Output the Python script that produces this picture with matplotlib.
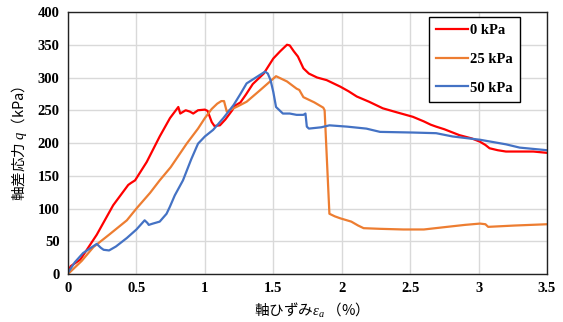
import matplotlib
matplotlib.use("Agg")
import matplotlib.pyplot as plt

# 0 kPa
x_0 = [0, 0.02, 0.09, 0.21, 0.33, 0.44, 0.46, 0.49, 0.575, 0.67, 0.745, 0.806, 0.82, 0.86, 0.89,
       0.915, 0.95, 1.0, 1.02, 1.05, 1.07, 1.11, 1.15, 1.2, 1.22, 1.26, 1.3, 1.35, 1.43, 1.5, 1.55,
       1.6, 1.62, 1.65, 1.68, 1.72, 1.76, 1.82, 1.89, 1.93, 1.99, 2.05, 2.11, 2.2, 2.3, 2.4, 2.52,
       2.6, 2.65, 2.69, 2.75, 2.86, 2.95, 3.01, 3.05, 3.08, 3.14, 3.2, 3.3, 3.4, 3.5]
q_0 = [4, 12, 22, 60, 105, 136, 139, 143, 171, 210, 238, 255, 245, 250, 248,
       245, 250, 251, 249, 232, 226, 227, 236, 250, 257, 262, 274, 290, 306, 329, 340,
       350, 349, 340, 332, 314, 306, 300, 296, 292, 286, 279, 271, 263, 253, 247, 240,
       233, 228, 225, 221, 212, 207, 202, 197, 192, 189, 187, 187, 187, 185]

# 25 kPa
x_25 = [0, 0.1, 0.185, 0.3, 0.43, 0.5, 0.6, 0.67, 0.75, 0.867, 0.95, 1.0, 1.05, 1.09, 1.12, 1.14,
        1.16, 1.18, 1.24, 1.305, 1.4, 1.52, 1.56, 1.6, 1.67, 1.69, 1.72, 1.8, 1.865, 1.875, 1.91,
        1.95, 1.99, 2.07, 2.12, 2.16, 2.28, 2.45, 2.6, 2.77, 2.9, 3.01, 3.05, 3.07, 3.26, 3.5]
q_25 = [0, 20, 41, 60, 82, 100, 124, 143, 163, 199, 222, 238, 252, 260, 264, 264,
        248, 250, 256, 263, 280, 302, 298, 294, 283, 281, 270, 262, 254, 250, 92,
        88, 85, 80, 74, 70, 69, 68, 68, 72, 75, 77, 76, 72, 74, 76]

# 50 kPa
x_50 = [0, 0.05, 0.11, 0.21, 0.24, 0.26, 0.3, 0.35, 0.43, 0.5, 0.56, 0.58, 0.59, 0.62, 0.67, 0.72,
        0.745, 0.78, 0.84, 0.9, 0.95, 1.0, 1.06, 1.135, 1.21, 1.26, 1.305, 1.38, 1.44, 1.46, 1.48,
        1.5, 1.52, 1.57, 1.62, 1.67, 1.72, 1.735, 1.745, 1.76, 1.85, 1.91, 2.04, 2.18, 2.28, 2.52,
        2.69, 2.81, 3.01, 3.2, 3.3, 3.5]
q_50 = [2, 18, 32, 46, 40, 37, 36, 42, 55, 68, 82, 78, 75, 77, 80, 92,
        103, 120, 143, 175, 199, 210, 220, 238, 258, 275, 291, 301, 309, 306, 296,
        278, 255, 245, 245, 243, 243, 245, 225, 222, 224, 227, 225, 222, 217, 216,
        215, 210, 205, 198, 193, 189]

labels = ["0 kPa", "25 kPa", "50 kPa"]
colors = ["#FF0000", "#ED7D31", "#4472C4"]

plt.rcParams['mathtext.fontset'] = 'custom'
plt.rcParams['mathtext.it'] = 'Liberation Serif:italic'
plt.rcParams['mathtext.rm'] = 'Liberation Serif'

fig = plt.figure(figsize=(5.63, 3.22), dpi=100)
ax = fig.add_axes([0.1208, 0.149, 0.8508, 0.8137])

for xs, ys, lab, c in zip([x_0, x_25, x_50], [q_0, q_25, q_50], labels, colors):
    ax.plot(xs, ys, color=c, linewidth=1.6, label=lab)

ax.set_xlim(0, 3.5)
ax.set_ylim(0, 400)
ax.set_xticks([0, 0.5, 1, 1.5, 2, 2.5, 3, 3.5])
ax.set_xticklabels(["0", "0.5", "1", "1.5", "2", "2.5", "3", "3.5"])
ax.set_yticks(range(0, 401, 50))
ax.grid(True, color="#D9D9D9", linewidth=1)
ax.set_axisbelow(True)
ax.tick_params(length=0, pad=6)
for lab in ax.get_xticklabels() + ax.get_yticklabels():
    lab.set_fontfamily("Liberation Serif")
    lab.set_fontweight("bold")
    lab.set_fontsize(10.5)
for sp in ax.spines.values():
    sp.set_color("#222222")
    sp.set_linewidth(1)

jp = ["Noto Sans CJK JP", "DejaVu Sans"]
ax.set_ylabel("軸差応力 $q$（kPa）", family=jp, fontsize=10.5, labelpad=6)
ax.set_xlabel("軸ひずみ$\\varepsilon_a$ （%）", family=jp, fontsize=10.5, labelpad=4)

leg = ax.legend(loc="upper right", bbox_to_anchor=(0.944, 0.981), borderaxespad=0,
                fancybox=False, framealpha=1, edgecolor="black", handlelength=2.2,
                handletextpad=0.15, labelspacing=1.05, borderpad=0.5,
                prop={"family": "Liberation Serif", "weight": "bold", "size": 10.5})
leg.get_frame().set_linewidth(1)

fig.savefig("out.png", dpi=100)
